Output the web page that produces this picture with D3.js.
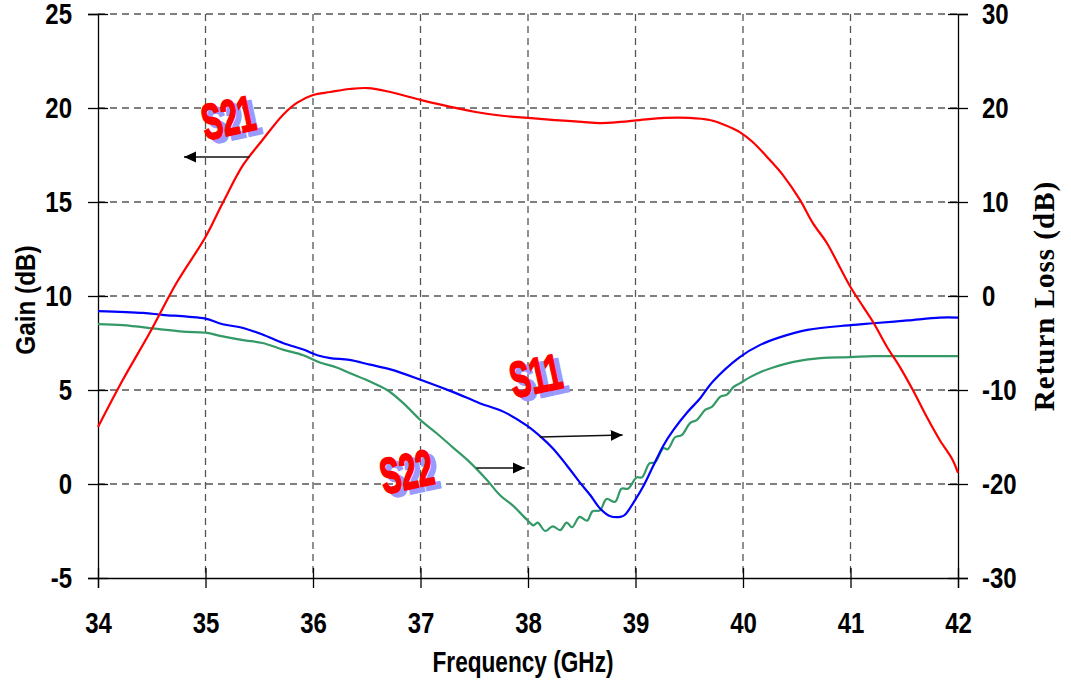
<!DOCTYPE html>
<html>
<head>
<meta charset="utf-8">
<script src="https://cdn.jsdelivr.net/npm/d3@7"></script>
<style>
  body { margin: 0; background: #fff; }
  .tick text { font-family: "Liberation Sans", Arial, sans-serif; font-weight: bold; font-size: 30px; fill: #000; }
</style>
</head>
<body>
<svg id="chart" width="1071" height="681"></svg>
<script>
// --- 周波数軸・目盛 ---
const freqTicks = [34, 35, 36, 37, 38, 39, 40, 41, 42];
const gainTicks = [-5, 0, 5, 10, 15, 20, 25];
const lossTicks = [-30, -20, -10, 0, 10, 20, 30];

// --- S21 (Gain, dB, 左軸) ---
const s21Freq = [34.0, 34.23, 34.48, 34.73, 35.0, 35.16, 35.35, 35.53, 35.72, 35.85, 36.0, 36.16, 36.34, 36.51,
  36.72, 37.0, 37.25, 37.5, 37.74, 38.0, 38.25, 38.5, 38.67, 38.86, 39.04, 39.27, 39.5, 39.69, 39.83, 39.97,
  40.09, 40.25, 40.37, 40.53, 40.65, 40.78, 40.9, 41.0, 41.12, 41.21, 41.34, 41.46, 41.58, 41.71, 41.83, 41.95, 42.0];
const s21Gain = [3.03, 5.53, 8.03, 10.69, 13.14, 14.95, 16.97, 18.3, 19.63, 20.27, 20.69, 20.85, 21.01, 21.06,
  20.85, 20.43, 20.1, 19.8, 19.6, 19.47, 19.36, 19.26, 19.2, 19.26, 19.36, 19.47, 19.47, 19.36, 19.1, 18.72,
  18.19, 17.23, 16.44, 15.11, 13.88, 12.82, 11.54, 10.48, 9.41, 8.62, 7.29, 6.22, 5.0, 3.56, 2.34, 1.28, 0.59];

// --- S11 (Return Loss, dB, 右軸) ---
const s11Freq = [34.0, 34.42, 34.6, 34.83, 35.0, 35.16, 35.35, 35.53, 35.72, 35.91, 36.04, 36.16, 36.34, 36.53,
  36.72, 37.0, 37.3, 37.55, 37.77, 37.99, 38.13, 38.23, 38.36, 38.48, 38.58, 38.67, 38.76, 38.86, 38.9, 38.98,
  39.07, 39.16, 39.26, 39.35, 39.48, 39.6, 39.72, 39.97, 40.16, 40.34, 40.6, 41.0, 41.21, 41.53, 41.83, 42.0];
const s11Loss = [-1.6, -1.8, -2.0, -2.2, -2.4, -3.0, -3.4, -4.1, -5.0, -5.7, -6.3, -6.6, -6.8, -7.3,
  -7.8, -8.9, -10.2, -11.4, -12.3, -13.8, -15.1, -16.2, -18.0, -19.8, -21.2, -22.6, -23.4, -23.5, -23.3, -22.0,
  -20.3, -18.2, -15.9, -14.3, -12.4, -10.9, -9.1, -6.5, -5.2, -4.4, -3.6, -3.1, -2.9, -2.6, -2.3, -2.3];

// --- S22 (Return Loss, dB, 右軸) ---
const s22Freq = [34.0, 34.23, 34.55, 34.79, 35.0, 35.16, 35.35, 35.53, 35.72, 35.91, 36.07, 36.22, 36.34, 36.53,
  36.69, 36.84, 37.0, 37.15, 37.3, 37.46, 37.62, 37.74, 37.86, 37.99, 38.05, 38.09, 38.16, 38.23, 38.3, 38.36,
  38.41, 38.48, 38.55, 38.6, 38.67, 38.73, 38.81, 38.87, 38.93, 39.01, 39.06, 39.13, 39.18, 39.26, 39.3, 39.37,
  39.43, 39.51, 39.57, 39.65, 39.71, 39.79, 39.85, 39.91, 39.97, 40.07, 40.16, 40.28, 40.47, 40.72, 41.0, 41.21,
  41.53, 42.0];
const s22Loss = [-3.0, -3.1, -3.5, -3.8, -3.9, -4.3, -4.7, -5.0, -5.7, -6.3, -7.1, -7.6, -8.2, -9.1,
  -10.0, -11.4, -13.2, -14.6, -16.1, -17.7, -19.6, -21.2, -22.3, -23.8, -24.4, -24.1, -25.0, -24.5, -24.9, -24.1,
  -24.6, -23.5, -23.9, -22.9, -22.8, -21.6, -21.9, -20.5, -20.5, -19.3, -19.3, -17.8, -17.7, -16.2, -16.3, -15.0,
  -14.8, -13.5, -13.2, -12.1, -11.8, -10.7, -10.5, -9.7, -9.3, -8.6, -8.1, -7.6, -7.0, -6.6, -6.5, -6.4,
  -6.4, -6.4];

// --- 注記（ラベル位置と矢印、データ単位） ---
const labelNames = ["S21", "S11", "S22"];
const labelFreq = [35.21, 38.07, 36.87];
const labelGain = [19.52, 5.8, 0.69];
const arrowFrom = [[35.41, 17.39, "gain"], [38.11, -15.0, "loss"], [37.52, -18.3, "loss"]];
const arrowTo = [[34.8, 17.39, "gain"], [38.88, -14.8, "loss"], [37.97, -18.3, "loss"]];

const svg = d3.select("#chart");
const margin = { top: 14, right: 113, bottom: 103, left: 98 };
const W = 1071 - margin.left - margin.right;
const H = 681 - margin.top - margin.bottom;
const g = svg.append("g").attr("transform", `translate(${margin.left},${margin.top})`);

const x = d3.scaleLinear().domain([34, 42]).range([0, W]);
const yGain = d3.scaleLinear().domain([-5, 25]).range([H, 0]);
const yLoss = d3.scaleLinear().domain([-30, 30]).range([H, 0]);
const yOf = (axis) => (axis === "gain" ? yGain : yLoss);
const plainFmt = (d) => String(d);

// 横方向に縮めて Condensed 書体の代わりにする
function condense(sel, k) {
  sel.each(function () {
    const t = d3.select(this);
    const x0 = +t.attr("x") || 0;
    t.attr("x", x0 / k).attr("transform", `scale(${k},1)`);
  });
}

// --- 背景グリッド（破線） ---
const grid = g.append("g").attr("stroke", "#555").attr("stroke-width", 1.3).attr("stroke-dasharray", "7,5");
grid.selectAll(".vgrid")
  .data(freqTicks.slice(1, -1))
  .enter().append("line")
  .attr("x1", (d) => x(d)).attr("x2", (d) => x(d))
  .attr("y1", 0).attr("y2", H);
grid.selectAll(".hgrid")
  .data(gainTicks.slice(1))
  .enter().append("line")
  .attr("x1", 0).attr("x2", W)
  .attr("y1", (d) => yGain(d)).attr("y2", (d) => yGain(d));

// --- 軸 ---
function crossTicks(sel) {
  sel.select(".domain").attr("stroke", "#000").attr("stroke-width", 1.3);
  sel.selectAll(".tick line").attr("stroke", "#000").attr("stroke-width", 1.3);
  condense(sel.selectAll(".tick text"), 0.8);
}
const xAxis = g.append("g").attr("transform", `translate(0,${H})`)
  .call(d3.axisBottom(x).tickValues(freqTicks).tickFormat(plainFmt).tickSizeOuter(0).tickSize(10).tickPadding(24));
xAxis.selectAll(".tick line").attr("y1", -10);
crossTicks(xAxis);

const yAxisL = g.append("g")
  .call(d3.axisLeft(yGain).tickValues(gainTicks).tickFormat(plainFmt).tickSizeOuter(0).tickSize(10).tickPadding(16));
yAxisL.selectAll(".tick line").attr("x1", 10);
crossTicks(yAxisL);

const yAxisR = g.append("g").attr("transform", `translate(${W},0)`)
  .call(d3.axisRight(yLoss).tickValues(lossTicks).tickFormat(plainFmt).tickSizeOuter(0).tickSize(10).tickPadding(14));
yAxisR.selectAll(".tick line").attr("x1", -10);
crossTicks(yAxisR);

// --- 軸タイトル ---
svg.append("text")
  .attr("transform", "translate(523,672) scale(0.78,1)")
  .attr("text-anchor", "middle")
  .style("font-family", "'Liberation Sans', Arial, sans-serif")
  .style("font-weight", "bold").style("font-size", "29px")
  .text("Frequency (GHz)");
svg.append("text")
  .attr("transform", "translate(35,300) rotate(-90) scale(0.9,1)")
  .attr("text-anchor", "middle")
  .style("font-family", "'Liberation Sans', Arial, sans-serif")
  .style("font-weight", "bold").style("font-size", "27px")
  .text("Gain (dB)");
svg.append("text")
  .attr("transform", "translate(1054,296) rotate(-90)")
  .attr("text-anchor", "middle")
  .style("font-family", "'Liberation Serif', 'Times New Roman', serif")
  .style("font-weight", "bold").style("font-size", "29px").style("letter-spacing", "1px")
  .text("Return Loss (dB)");

// --- 曲線 ---
const series = [
  { freq: s21Freq, vals: s21Gain, y: yGain, color: "#ff0000" },
  { freq: s11Freq, vals: s11Loss, y: yLoss, color: "#0000ff" },
  { freq: s22Freq, vals: s22Loss, y: yLoss, color: "#339966" },
];
const plot = g.append("g");
series.slice().reverse().forEach((s) => {
  const line = d3.line().curve(d3.curveCatmullRom.alpha(0.5))
    .x((d, i) => x(s.freq[i])).y((d) => s.y(d));
  plot.append("path")
    .datum(s.vals)
    .attr("d", line)
    .attr("fill", "none")
    .attr("stroke", s.color)
    .attr("stroke-width", 2.2)
    .attr("stroke-linejoin", "round");
});

// --- 矢印 ---
svg.append("defs").append("marker")
  .attr("id", "arrowHead")
  .attr("viewBox", "0 -6 12 12")
  .attr("refX", 12).attr("refY", 0)
  .attr("markerWidth", 12).attr("markerHeight", 12)
  .attr("markerUnits", "userSpaceOnUse")
  .attr("orient", "auto")
  .append("path").attr("d", "M0,-5.5L12,0L0,5.5Z").attr("fill", "#000");
g.selectAll(".arrow")
  .data(arrowFrom)
  .enter().append("line")
  .attr("x1", (d) => x(d[0])).attr("y1", (d) => yOf(d[2])(d[1]))
  .attr("x2", (d, i) => x(arrowTo[i][0])).attr("y2", (d, i) => yOf(arrowTo[i][2])(arrowTo[i][1]))
  .attr("stroke", "#111").attr("stroke-width", 1.5)
  .attr("marker-end", "url(#arrowHead)");

// --- 系列ラベル（影付き） ---
const labels = g.selectAll(".slabel")
  .data(labelNames)
  .enter().append("g")
  .attr("transform", (d, i) => `translate(${x(labelFreq[i])},${yGain(labelGain[i])}) rotate(-12) scale(0.6,1)`);
labels.append("text")
  .attr("x", 8).attr("y", 5).attr("dy", "0.36em")
  .attr("text-anchor", "middle")
  .style("font-family", "'Liberation Sans', Arial, sans-serif")
  .style("font-weight", "bold").style("font-size", "50px")
  .attr("fill", "#9999ff").attr("stroke", "#9999ff").attr("stroke-width", 2)
  .text((d) => d);
labels.append("text")
  .attr("dy", "0.36em")
  .attr("text-anchor", "middle")
  .style("font-family", "'Liberation Sans', Arial, sans-serif")
  .style("font-weight", "bold").style("font-size", "50px")
  .attr("fill", "#ff0000").attr("stroke", "#ff0000").attr("stroke-width", 2)
  .text((d) => d);
</script>
</body>
</html>
